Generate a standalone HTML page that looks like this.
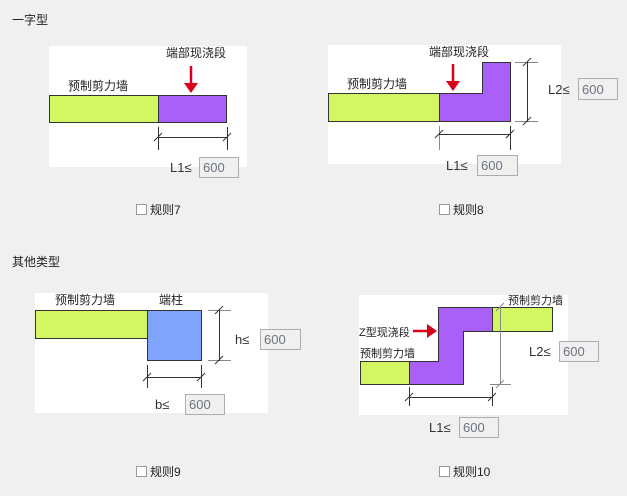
<!DOCTYPE html>
<html><head><meta charset="utf-8"><style>
html,body{margin:0;padding:0;background:#f0f0f0;}
svg{display:block;}
text{font-family:"Liberation Sans","Noto Sans CJK SC",sans-serif;font-size:12px;fill:#222;}
.in{fill:#f0f0f0;stroke:#adadad;stroke-width:1;}
.v{fill:#6d7480;font-size:13px;}
.l{font-size:13px;fill:#333;}
.d{stroke:#333;stroke-width:1;fill:none;}
.g{stroke:#888;stroke-width:1;fill:none;}
.s{stroke:#333;stroke-width:1;}
.cb{fill:#fff;stroke:#999;}
</style></head><body>
<svg width="627" height="496" viewBox="0 0 627 496" xmlns="http://www.w3.org/2000/svg">
<rect width="627" height="496" fill="#f0f0f0"/>
<text x="12" y="24">一字型</text>
<text x="12" y="266">其他类型</text>

<!-- Panel 1 -->
<rect x="49" y="46" width="198" height="121" fill="#fff"/>
<text x="166" y="57">端部现浇段</text>
<text x="68" y="90">预制剪力墙</text>
<rect x="49.5" y="95.5" width="109" height="27" fill="#d2f763" class="s"/>
<rect x="158.5" y="95.5" width="68" height="27" fill="#a960f7" class="s"/>
<line x1="191" y1="66" x2="191" y2="84" stroke="#d9001b" stroke-width="2.5"/>
<polygon points="184,83 198,83 191,93" fill="#d9001b"/>
<line x1="158.5" y1="127" x2="158.5" y2="150" class="d"/>
<line x1="227.5" y1="127" x2="227.5" y2="150" class="d"/>
<line x1="158" y1="137.5" x2="228" y2="137.5" class="d"/>
<line x1="154" y1="141" x2="162" y2="133" class="d"/>
<line x1="223" y1="141" x2="231" y2="133" class="d"/>
<text x="170" y="172" class="l">L1≤</text>
<rect x="199.5" y="157.5" width="39" height="20" class="in"/>
<text x="203" y="172" class="v">600</text>

<!-- Panel 2 -->
<rect x="328" y="45" width="233" height="119" fill="#fff"/>
<text x="429" y="56">端部现浇段</text>
<text x="347" y="88">预制剪力墙</text>
<rect x="328.5" y="93.5" width="111" height="28" fill="#d2f763" class="s"/>
<polygon points="439.5,93.5 482.5,93.5 482.5,62.5 510.5,62.5 510.5,121.5 439.5,121.5" fill="#a960f7" class="s"/>
<line x1="453" y1="64" x2="453" y2="82" stroke="#d9001b" stroke-width="2.5"/>
<polygon points="446,81 460,81 453,91" fill="#d9001b"/>
<line x1="515" y1="62.5" x2="538" y2="62.5" class="g"/>
<line x1="515" y1="121.5" x2="538" y2="121.5" class="g"/>
<line x1="527.5" y1="62" x2="527.5" y2="122" class="d"/>
<line x1="523" y1="66" x2="531" y2="58" class="d"/>
<line x1="523" y1="125" x2="531" y2="117" class="d"/>
<text x="548" y="94" class="l">L2≤</text>
<rect x="578.5" y="78.5" width="39" height="21" class="in"/>
<text x="582" y="94" class="v">600</text>
<line x1="439.5" y1="126" x2="439.5" y2="150" class="g"/>
<line x1="510.5" y1="126" x2="510.5" y2="150" class="d"/>
<line x1="439" y1="134.5" x2="511" y2="134.5" class="d"/>
<line x1="435" y1="138" x2="443" y2="130" class="d"/>
<line x1="506" y1="138" x2="514" y2="130" class="d"/>
<text x="446" y="170" class="l">L1≤</text>
<rect x="477.5" y="155.5" width="40" height="20" class="in"/>
<text x="481" y="170" class="v">600</text>

<rect x="136.5" y="204.5" width="10" height="10" class="cb"/>
<text x="150" y="214">规则7</text>
<rect x="439.5" y="204.5" width="10" height="10" class="cb"/>
<text x="453" y="214">规则8</text>

<!-- Panel 3 -->
<rect x="35" y="293" width="233" height="120" fill="#fff"/>
<text x="55" y="304">预制剪力墙</text>
<text x="159" y="304">端柱</text>
<rect x="35.5" y="310.5" width="112" height="28" fill="#d2f763" class="s"/>
<rect x="147.5" y="310.5" width="54" height="50" fill="#80a4fc" class="s"/>
<line x1="208" y1="310.5" x2="231" y2="310.5" class="g"/>
<line x1="208" y1="360.5" x2="231" y2="360.5" class="g"/>
<line x1="219.5" y1="310" x2="219.5" y2="361" class="d"/>
<line x1="215" y1="314" x2="223" y2="306" class="d"/>
<line x1="215" y1="364" x2="223" y2="356" class="d"/>
<text x="235" y="344" class="l">h≤</text>
<rect x="260.5" y="329.5" width="40" height="20" class="in"/>
<text x="264" y="344" class="v">600</text>
<line x1="147.5" y1="365" x2="147.5" y2="388" class="d"/>
<line x1="201.5" y1="365" x2="201.5" y2="388" class="d"/>
<line x1="147" y1="377.5" x2="202" y2="377.5" class="d"/>
<line x1="143" y1="381" x2="151" y2="373" class="d"/>
<line x1="197" y1="381" x2="205" y2="373" class="d"/>
<text x="155" y="409" class="l">b≤</text>
<rect x="185.5" y="394.5" width="39" height="20" class="in"/>
<text x="189" y="409" class="v">600</text>

<!-- Panel 4 -->
<rect x="359" y="295" width="209" height="120" fill="#fff"/>
<text x="508" y="304" style="font-size:11px">预制剪力墙</text>
<text x="360" y="357" style="font-size:11px">预制剪力墙</text>
<text x="359" y="336" style="font-size:11px">Z型现浇段</text>
<rect x="492.5" y="307.5" width="60" height="24" fill="#d2f763" class="s"/>
<rect x="360.5" y="361.5" width="49" height="23" fill="#d2f763" class="s"/>
<polygon points="438.5,307.5 492.5,307.5 492.5,331.5 463.5,331.5 463.5,384.5 409.5,384.5 409.5,361.5 438.5,361.5" fill="#a960f7" class="s"/>
<line x1="413" y1="331" x2="428" y2="331" stroke="#d9001b" stroke-width="2.5"/>
<polygon points="427,324 427,338 437,331" fill="#d9001b"/>
<line x1="500.5" y1="307" x2="500.5" y2="385" class="g"/>
<line x1="496" y1="311" x2="504" y2="303" class="g"/>
<line x1="490" y1="384.5" x2="511" y2="384.5" class="g"/>
<line x1="496" y1="388" x2="504" y2="380" class="g"/>
<text x="529" y="356" class="l">L2≤</text>
<rect x="559.5" y="341.5" width="39" height="20" class="in"/>
<text x="563" y="356" class="v">600</text>
<line x1="409.5" y1="387" x2="409.5" y2="406" class="d"/>
<line x1="492.5" y1="387" x2="492.5" y2="406" class="d"/>
<line x1="409" y1="397.5" x2="493" y2="397.5" class="d"/>
<line x1="405" y1="401" x2="413" y2="393" class="d"/>
<line x1="488" y1="401" x2="496" y2="393" class="d"/>
<text x="429" y="432" class="l">L1≤</text>
<rect x="459.5" y="417.5" width="39" height="20" class="in"/>
<text x="463" y="432" class="v">600</text>

<rect x="136.5" y="466.5" width="10" height="10" class="cb"/>
<text x="150" y="476">规则9</text>
<rect x="439.5" y="466.5" width="10" height="10" class="cb"/>
<text x="453" y="476">规则10</text>
</svg>
</body></html>
